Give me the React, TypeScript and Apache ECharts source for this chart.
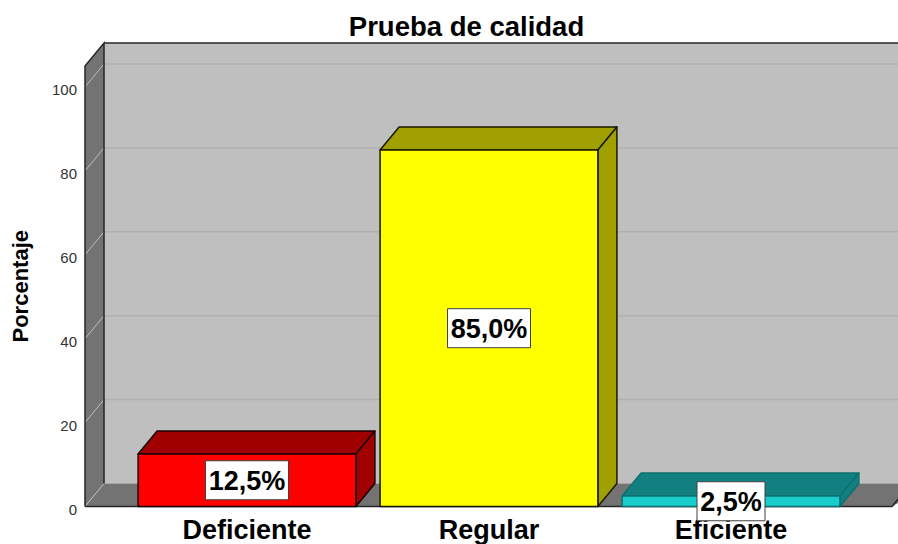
import React, { useEffect, useRef } from "react";
import * as echarts from "echarts";

const categories = ["Deficiente", "Regular", "Eficiente"];
const values = [12.5, 85.0, 2.5];
const frontColors = ["#ff0000", "#ffff00", "#19cdcd"];
const sideColors = ["#a00000", "#a0a000", "#128080"];
const edgeColors = ["#1a0000", "#1a1a00", "#0f7070"];
const gridTicks = [0, 20, 40, 60, 80, 100];
const axisMax = 105;
const titleText = "Prueba de calidad";
const yName = "Porcentaje";

const DX = 19;
const DY = -23;
const FONT = '"Liberation Sans", Arial, sans-serif';

function wallsItem(_params: any, api: any) {
  const halfBand = api.size([1, 0])[0] / 2;
  const cx0 = api.coord([0, 0])[0];
  const left = cx0 - halfBand - 41;
  const right = api.coord([2, 0])[0] + halfBand + 40;
  const y0 = api.coord([0, 0])[1];
  const yTop = api.coord([0, axisMax])[1];
  const children: any[] = [
    { type: "rect", shape: { x: left + DX, y: yTop + DY, width: right - left + 40, height: y0 - yTop }, style: { fill: "#bfbfbf" } },
    { type: "polygon", shape: { points: [[left, yTop], [left + DX, yTop + DY], [left + DX, y0 + DY], [left, y0]] }, style: { fill: "#737373" } },
    { type: "polygon", shape: { points: [[left, y0], [left + DX, y0 + DY], [right + DX + 20, y0 + DY], [right, y0]] }, style: { fill: "#737373" } },
  ];
  gridTicks.forEach((t) => {
    const y = api.coord([0, t])[1];
    if (t > 0) {
      children.push({ type: "line", shape: { x1: left + DX, y1: y + DY, x2: right + DX + 20, y2: y + DY }, style: { stroke: "#b0b0b0", lineWidth: 1.5 } });
    }
    children.push({ type: "line", shape: { x1: left, y1: y, x2: left + DX, y2: y + DY }, style: { stroke: "#bfbfbf", lineWidth: 1 } });
  });
  const edge = { stroke: "#262626", lineWidth: 1.5, fill: "none" };
  children.push(
    { type: "polyline", shape: { points: [[left, y0], [left, yTop], [left + DX, yTop + DY], [left + DX, y0 + DY]] }, style: edge },
    { type: "line", shape: { x1: left + DX, y1: yTop + DY, x2: right + 60, y2: yTop + DY }, style: edge },
    { type: "polyline", shape: { points: [[left, y0], [right, y0], [right + DX, y0 + DY]] }, style: edge }
  );
  return { type: "group", children };
}

function barItem(params: any, api: any) {
  const i = api.value(0);
  const v = api.value(1);
  const [cx, yT] = api.coord([i, v]);
  const y0 = api.coord([i, 0])[1];
  const w = api.size([1, 0])[0] * 0.9;
  const l = cx - w / 2;
  const r = cx + w / 2;
  const stroke = edgeColors[i];
  const s = { stroke, lineWidth: 1.5, lineJoin: "round" };
  const label = v.toFixed(1).replace(".", ",") + "%";
  const my = (yT + y0) / 2;
  const boxW = i === 0 || i === 1 ? 83 : 68;
  return {
    type: "group",
    children: [
      { type: "polygon", shape: { points: [[l, yT], [l + DX, yT + DY], [r + DX, yT + DY], [r, yT]] }, style: { fill: sideColors[i], ...s } },
      { type: "polygon", shape: { points: [[r, yT], [r + DX, yT + DY], [r + DX, y0 + DY], [r, y0]] }, style: { fill: sideColors[i], ...s } },
      { type: "rect", shape: { x: l, y: yT, width: w, height: y0 - yT }, style: { fill: frontColors[i], ...s } },
      { type: "rect", shape: { x: cx - boxW / 2, y: my - 19.5, width: boxW, height: 39 }, style: { fill: "#ffffff", stroke: "#404040", lineWidth: 1 } },
      { type: "text", style: { text: label, x: cx, y: my + 1, align: "center", verticalAlign: "middle", fill: "#000000", font: `bold 27px ${FONT}` } },
    ],
  };
}

export default function App() {
  const ref = useRef<HTMLDivElement>(null);
  useEffect(() => {
    document.body.style.margin = "0";
    const chart = echarts.init(ref.current!, undefined, { renderer: "svg" });
    chart.setOption({
      animation: false,
      backgroundColor: "#ffffff",
      title: {
        text: titleText,
        left: 466.5,
        top: 12,
        padding: 0,
        textAlign: "center",
        textStyle: { fontFamily: FONT, fontWeight: "bold", fontSize: 27.5, color: "#000000" },
      },
      grid: { left: 126, right: 46, top: 66, height: 440.5, outerBoundsMode: "none" },
      xAxis: {
        type: "category",
        data: categories,
        axisLine: { show: false },
        axisTick: { show: false },
        axisLabel: { fontFamily: FONT, fontWeight: "bold", fontSize: 27, color: "#000000", margin: 10 },
      },
      yAxis: {
        type: "value",
        min: 0,
        max: axisMax,
        interval: 20,
        offset: 41,
        name: yName,
        nameLocation: "middle",
        nameGap: 54,
        nameTextStyle: { fontFamily: FONT, fontWeight: "bold", fontSize: 22, color: "#000000" },
        axisLine: { show: false },
        axisTick: { show: false },
        splitLine: { show: false },
        axisLabel: { fontFamily: FONT, fontSize: 15, color: "#333333", margin: 8, showMaxLabel: false, verticalAlign: "top", lineHeight: 6 },
      },
      series: [
        { type: "custom", z: 1, silent: true, renderItem: wallsItem, data: [[0, 0]], encode: { x: 0, y: 1 } },
        { type: "custom", z: 2, silent: true, renderItem: barItem, data: values.map((v, i) => [i, v]), encode: { x: 0, y: 1 } },
      ],
    });
    return () => chart.dispose();
  }, []);
  return <div ref={ref} style={{ width: 898, height: 544 }} />;
}
